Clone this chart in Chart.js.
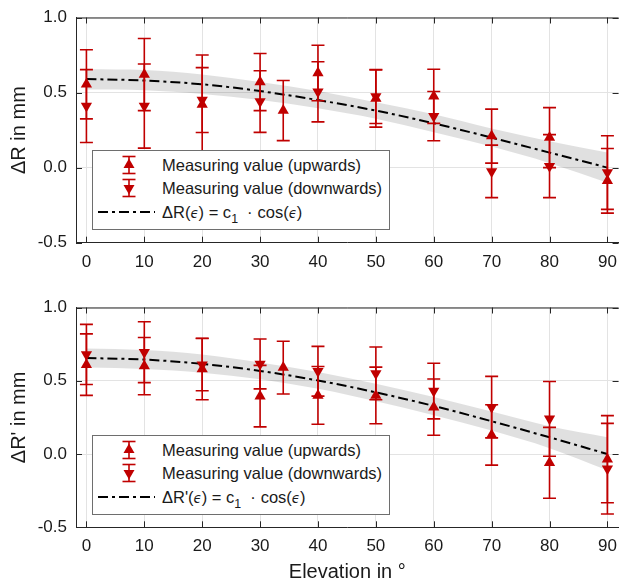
<!DOCTYPE html>
<html>
<head>
<meta charset="utf-8">
<script src="https://cdn.jsdelivr.net/npm/chart.js@4"></script>
<style>
  body { margin: 0; background: #fff; font-family: "Liberation Sans", Arial, sans-serif; }
  #wrap { position: relative; width: 628px; height: 582px; overflow: hidden; }
  .panel { position: absolute; left: 0; width: 628px; }
  .legend { position: absolute; left: 92px; width: 296px; height: 78px; background: #fff;
            border: 1px solid #6e6e6e; color: #1a1a1a; font-size: 16.5px; }
  .row { position: absolute; left: 0; height: 20px; line-height: 20px; white-space: nowrap; }
  .row svg { position: absolute; top: 0; }
  .row span.txt { position: absolute; left: 69px; }
  .eps { font-style: italic; font-family: "DejaVu Sans", sans-serif; font-size: 0.8em; }
  sub { font-size: 0.75em; vertical-align: -0.4em; line-height: 0; }
</style>
</head>
<body>
<div id="wrap">
  <div class="panel" style="top:0;height:290px"><canvas id="chartTop" width="628" height="290"></canvas></div>
  <div class="panel" style="top:290px;height:292px"><canvas id="chartBottom" width="628" height="292"></canvas></div>
  <div class="legend" id="legendTop" style="top:150px"></div>
  <div class="legend" id="legendBottom" style="top:435px"></div>
</div>
<script>
const RED = '#c00000';

const xTicks = [0, 10, 20, 30, 40, 50, 60, 70, 80, 90];
const yTicks = [-0.5, 0, 0.5, 1.0];
const fitX = [0, 10, 20, 30, 40, 50, 60, 70, 80, 90];

// upper panel: delta R
const topUpX = [0, 10, 20, 30, 34, 40, 50, 60, 70, 80, 90];
const topUpY = [0.555, 0.62, 0.42, 0.57, 0.38, 0.63, 0.46, 0.475, 0.21, 0.20, -0.088];
const topUpErr = [0.23, 0.24, 0.33, 0.19, 0.20, 0.185, 0.19, 0.18, 0.18, 0.20, 0.215];
const topDownX = [0, 10, 20, 30, 40, 50, 60, 70, 80, 90];
const topDownY = [0.41, 0.41, 0.45, 0.44, 0.505, 0.474, 0.343, -0.025, 0.01, -0.033];
const topDownErr = [0.243, 0.28, 0.216, 0.205, 0.2, 0.18, 0.164, 0.175, 0.21, 0.245];
const topFit = [0.59, 0.58, 0.555, 0.51, 0.45, 0.38, 0.295, 0.2, 0.1, 0.0];
const topBandHi = [0.655, 0.65, 0.62, 0.57, 0.51, 0.435, 0.355, 0.26, 0.175, 0.1];
const topBandLo = [0.52, 0.515, 0.49, 0.45, 0.395, 0.325, 0.235, 0.14, 0.03, -0.1];

// lower panel: delta R'
const botUpX = [0, 10, 20, 30, 34, 40, 50, 60, 70, 80, 90];
const botUpY = [0.61, 0.60, 0.58, 0.395, 0.59, 0.40, 0.40, 0.32, 0.13, -0.06, -0.035];
const botUpErr = [0.21, 0.195, 0.21, 0.21, 0.18, 0.197, 0.193, 0.192, 0.206, 0.242, 0.297];
const botDownX = [0, 10, 20, 30, 40, 50, 60, 70, 80, 90];
const botDownY = [0.68, 0.695, 0.61, 0.615, 0.565, 0.55, 0.43, 0.32, 0.24, -0.10];
const botDownErr = [0.205, 0.208, 0.178, 0.17, 0.17, 0.18, 0.19, 0.21, 0.255, 0.309];
const botFit = [0.655, 0.645, 0.615, 0.567, 0.502, 0.421, 0.328, 0.224, 0.114, 0.0];
const botBandHi = [0.72, 0.71, 0.68, 0.625, 0.56, 0.48, 0.39, 0.29, 0.19, 0.115];
const botBandLo = [0.59, 0.58, 0.555, 0.51, 0.445, 0.36, 0.265, 0.16, 0.04, -0.11];

const pts = (xs, ys) => xs.map((x, i) => ({ x: x, y: ys[i] }));

// vertical error bars, drawn just before the marker dataset they belong to
const errorBars = {
    id: 'errorBars',
    beforeDatasetDraw(chart, args) {
        const ds = chart.data.datasets[args.index];
        if (!ds.errors) return;
        const { ctx, scales: { x, y } } = chart;
        ctx.save();
        ctx.strokeStyle = RED;
        ctx.lineWidth = 1.6;
        ds.data.forEach((p, i) => {
            const px = x.getPixelForValue(p.x);
            const y1 = y.getPixelForValue(p.y + ds.errors[i]);
            const y2 = y.getPixelForValue(p.y - ds.errors[i]);
            ctx.beginPath();
            ctx.moveTo(px, y1); ctx.lineTo(px, y2);
            ctx.moveTo(px - 6.5, y1); ctx.lineTo(px + 6.5, y1);
            ctx.moveTo(px - 6.5, y2); ctx.lineTo(px + 6.5, y2);
            ctx.stroke();
        });
        ctx.restore();
    }
};

// top spine + inward tick marks (matlab style box)
const frame = {
    id: 'frame',
    afterDatasetsDraw(chart) {
        const { ctx, chartArea: a, scales: { x, y } } = chart;
        ctx.save();
        ctx.strokeStyle = '#262626';
        ctx.lineWidth = 1;
        ctx.beginPath();
        ctx.moveTo(a.left, a.top + 0.5); ctx.lineTo(a.right, a.top + 0.5);
        xTicks.forEach(v => {
            const px = Math.round(x.getPixelForValue(v)) + 0.5;
            ctx.moveTo(px, a.bottom); ctx.lineTo(px, a.bottom - 6);
            ctx.moveTo(px, a.top); ctx.lineTo(px, a.top + 6);
        });
        yTicks.forEach(v => {
            const py = Math.round(y.getPixelForValue(v)) + 0.5;
            ctx.moveTo(a.left, py); ctx.lineTo(a.left + 6, py);
            ctx.moveTo(a.right, py); ctx.lineTo(a.right - 6, py);
        });
        ctx.stroke();
        ctx.restore();
    }
};

function makeChart(id, d, yTitle, showXTitle, padTop, xAxisH) {
    const ctx = document.getElementById(id).getContext('2d');
    return new Chart(ctx, {
        type: 'line',
        data: {
            datasets: [
                {
                    label: 'Measuring value (downwards)',
                    data: pts(d.downX, d.downY),
                    errors: d.downErr,
                    showLine: false,
                    pointStyle: 'triangle',
                    rotation: 180,
                    pointRadius: 6.5,
                    backgroundColor: RED,
                    borderColor: RED,
                    borderWidth: 0
                },
                {
                    label: 'Measuring value (upwards)',
                    data: pts(d.upX, d.upY),
                    errors: d.upErr,
                    showLine: false,
                    pointStyle: 'triangle',
                    pointRadius: 6.5,
                    backgroundColor: RED,
                    borderColor: RED,
                    borderWidth: 0
                },
                {
                    label: 'fit',
                    data: pts(fitX, d.fit),
                    borderColor: '#000',
                    borderWidth: 2,
                    borderDash: [10, 4, 3, 4],
                    pointRadius: 0,
                    cubicInterpolationMode: 'monotone',
                    fill: false
                },
                {
                    label: 'band hi',
                    data: pts(fitX, d.bandHi),
                    borderWidth: 0,
                    borderColor: 'rgba(0,0,0,0)',
                    backgroundColor: 'rgba(0,0,0,0.12)',
                    pointRadius: 0,
                    cubicInterpolationMode: 'monotone',
                    fill: '+1'
                },
                {
                    label: 'band lo',
                    data: pts(fitX, d.bandLo),
                    borderWidth: 0,
                    borderColor: 'rgba(0,0,0,0)',
                    pointRadius: 0,
                    cubicInterpolationMode: 'monotone',
                    fill: false
                }
            ]
        },
        options: {
            responsive: false,
            animation: false,
            layout: { padding: { top: padTop, left: 0, right: 0, bottom: 0 } },
            plugins: {
                legend: { display: false },
                tooltip: { enabled: false }
            },
            scales: {
                x: {
                    type: 'linear',
                    min: -1.8,
                    max: 91.93,
                    afterBuildTicks: s => { s.ticks = xTicks.map(v => ({ value: v })); },
                    afterFit: s => { s.height = xAxisH; },
                    grid: { color: '#e3e3e3', drawTicks: false },
                    border: { color: '#262626' },
                    ticks: {
                        color: '#1a1a1a',
                        padding: 11,
                        maxRotation: 0,
                        font: { family: 'Liberation Sans, Arial, sans-serif', size: 17, lineHeight: 1 }
                    },
                    title: {
                        display: showXTitle,
                        text: 'Elevation in °',
                        color: '#1a1a1a',
                        padding: { top: 0, bottom: 0 },
                        font: { family: 'Liberation Sans, Arial, sans-serif', size: 20, lineHeight: 1 }
                    }
                },
                y: {
                    min: -0.5,
                    max: 1.0,
                    afterBuildTicks: s => { s.ticks = yTicks.map(v => ({ value: v })); },
                    afterFit: s => { s.width = 76; },
                    grid: { color: '#e3e3e3', drawTicks: false },
                    border: { color: '#262626' },
                    ticks: {
                        color: '#1a1a1a',
                        padding: 9,
                        callback: v => v.toFixed(1),
                        font: { family: 'Liberation Sans, Arial, sans-serif', size: 17, lineHeight: 1 }
                    },
                    title: {
                        display: true,
                        text: yTitle,
                        color: '#1a1a1a',
                        padding: { top: 9.5, bottom: 0 },
                        font: { family: 'Liberation Sans, Arial, sans-serif', size: 20, lineHeight: 1 }
                    }
                }
            }
        },
        plugins: [errorBars, frame]
    });
}

function markerSvg(up) {
    const tri = up ? '10,4.5 15.5,14 4.5,14' : '10,17.5 15.5,8 4.5,8';
    return `<svg width="20" height="22" style="left:26px;top:-1px">
        <g stroke="${RED}" stroke-width="1.6" fill="none">
          <line x1="10" y1="2.5" x2="10" y2="19.5"/>
          <line x1="3.5" y1="2.5" x2="16.5" y2="2.5"/>
          <line x1="3.5" y1="19.5" x2="16.5" y2="19.5"/>
        </g>
        <polygon points="${tri}" fill="${RED}"/>
      </svg>`;
}

function buildLegend(elId, name) {
    const el = document.getElementById(elId);
    el.innerHTML = `
      <div class="row" style="top:4px">${markerSvg(true)}<span class="txt">Measuring value (upwards)</span></div>
      <div class="row" style="top:27px">${markerSvg(false)}<span class="txt">Measuring value (downwards)</span></div>
      <div class="row" style="top:51px">
        <svg width="58" height="20" style="left:5px"><line x1="0" y1="10" x2="57" y2="10" stroke="#000" stroke-width="2" stroke-dasharray="10 4 3 4"/></svg>
        <span class="txt">${name}(<span class="eps">ϵ</span>) = c<sub>1</sub><span style="margin:0 5px 0 9px">·</span>cos(<span class="eps">ϵ</span>)</span>
      </div>`;
}

makeChart('chartTop', {
    upX: topUpX, upY: topUpY, upErr: topUpErr,
    downX: topDownX, downY: topDownY, downErr: topDownErr,
    fit: topFit, bandHi: topBandHi, bandLo: topBandLo
}, 'ΔR in mm', false, 17.3, 47.3);

makeChart('chartBottom', {
    upX: botUpX, upY: botUpY, upErr: botUpErr,
    downX: botDownX, downY: botDownY, downErr: botDownErr,
    fit: botFit, bandHi: botBandHi, bandLo: botBandLo
}, "ΔR' in mm", true, 12.7, 54.7);

buildLegend('legendTop', 'ΔR');
buildLegend('legendBottom', "ΔR'");
</script>
</body>
</html>
